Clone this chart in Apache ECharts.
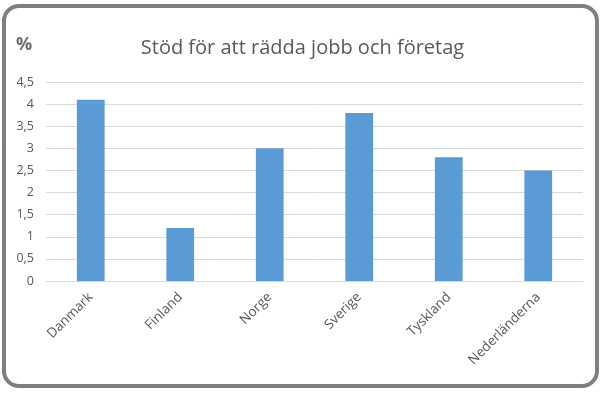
<!DOCTYPE html>
<html>
<head>
<meta charset="utf-8">
<script src="https://cdn.jsdelivr.net/npm/echarts@6/dist/echarts.min.js"></script>
<style>
html,body{margin:0;padding:0;background:#fff;}
#chart{width:605px;height:396px;}
</style>
</head>
<body>
<div id="chart"></div>
<script>
const categories = ['Danmark', 'Finland', 'Norge', 'Sverige', 'Tyskland', 'Nederländerna'];
const values = [4.1, 1.2, 3.0, 3.8, 2.8, 2.5];
const yTicks = [0, 0.5, 1, 1.5, 2, 2.5, 3, 3.5, 4, 4.5];

const chart = echarts.init(document.getElementById('chart'));
chart.setOption({
  backgroundColor: '#ffffff',
  animation: false,
  textStyle: { fontFamily: 'Open Sans' },
  title: {
    text: 'Stöd för att rädda jobb och företag',
    left: 'center',
    top: 33,
    textStyle: { fontFamily: 'Open Sans', fontSize: 20, fontWeight: 'normal', color: '#595959' }
  },
  graphic: [
    {
      type: 'rect',
      shape: { x: 4, y: 6, width: 593, height: 380, r: 15 },
      style: { fill: 'none', stroke: '#7f7f7f', lineWidth: 4 },
      silent: true
    },
    {
      type: 'text',
      left: 16,
      top: 36,
      style: { text: '%', fontFamily: 'Open Sans', fontSize: 18, fontWeight: 'bold', fill: '#6d6d6d' }
    }
  ],
  grid: { left: 46, right: 22, top: 82, bottom: 115, containLabel: false },
  xAxis: {
    type: 'category',
    data: categories,
    axisLine: { show: true, lineStyle: { color: '#d9d9d9', width: 1 } },
    axisTick: { show: false },
    axisLabel: { rotate: 45, color: '#595959', fontSize: 13.5, fontFamily: 'Open Sans', margin: 14, interval: 0 }
  },
  yAxis: {
    type: 'value',
    min: 0,
    max: 4.5,
    interval: 0.5,
    axisLine: { show: false },
    axisTick: { show: false },
    splitLine: { lineStyle: { color: '#d9d9d9', width: 1 } },
    axisLabel: {
      color: '#595959', fontSize: 12.5, fontFamily: 'Open Sans', margin: 12,
      formatter: function (v) { return String(v).replace('.', ','); }
    }
  },
  series: [{
    type: 'bar',
    data: values,
    barWidth: '31%',
    itemStyle: { color: '#5b9bd5' }
  }]
});
</script>
</body>
</html>
